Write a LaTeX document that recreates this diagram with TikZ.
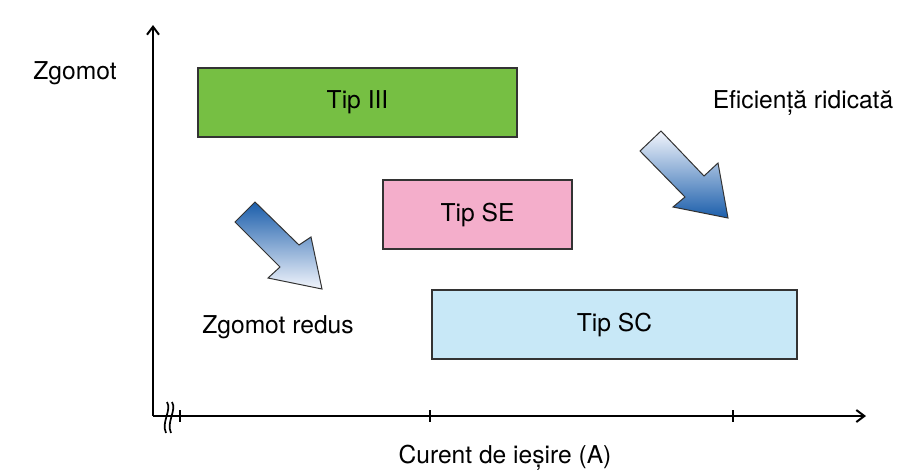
\documentclass[tikz,border=0pt]{standalone}
\usepackage{fontspec}
\setmainfont{TeX Gyre Heros}
\usetikzlibrary{positioning, arrows.meta}
\definecolor{tipgreen}{HTML}{76BF43}
\definecolor{tippink}{HTML}{F4AECB}
\definecolor{tipblue}{HTML}{C8E8F7}
\definecolor{arrdark}{HTML}{1B5EAB}
\definecolor{arrpale}{HTML}{F2F5FC}
\tikzset{
	axis/.style={line width=1pt, black},
	tipbox/.style={draw=black!80, line width=0.75pt, inner sep=0pt, outer sep=0pt,
		minimum height=34.5pt, font=\fontsize{12.3}{14}\selectfont},
	lbl/.style={inner sep=0pt, font=\fontsize{12.3}{14}\selectfont},
	bigarrow/.style={draw=black!80, line width=0.5pt, shading angle=45}
}
\begin{document}
\begin{tikzpicture}[x=0.5pt,y=0.5pt]
		\useasboundingbox (0,0) rectangle (899,-473);
		\coordinate (o) at (153,-416);
		\coordinate (ytop) at (153,-25);
		\coordinate (xend) at (866,-416);
		\draw[axis, -{Straight Barb[length=4pt, width=6pt]}] (o) -- (ytop);
		\draw[axis, -{Straight Barb[length=4pt, width=6pt]}] (o) -- (xend);
		\draw[axis] (180,-410) -- (180,-422);
		\draw[axis] (430,-410) -- (430,-422);
		\draw[axis] (733,-410) -- (733,-422);
		\draw[line width=0.85pt] (167,-402) .. controls (172,-410) and (161,-422) .. (166,-433);
		\draw[line width=0.85pt] (172,-402) .. controls (177,-410) and (166,-422) .. (171,-433);
		\node[lbl] (ylabel) at (75,-73) {Zgomot};
		\node[lbl] (xlabel) at (505,-458) {Curent de ieșire (A)};
		\node[tipbox, fill=tipgreen, minimum width=159.5pt] (tip3) at (357.5,-102.5) {Tip III};
		\node[tipbox, fill=tippink, minimum width=94.5pt] (tipse) at (477.5,-214.5) {Tip SE};
		\node[tipbox, fill=tipblue, minimum width=182.5pt] (tipsc) at (614.5,-324.5) {Tip SC};
		\shade[bigarrow, top color=arrdark, bottom color=arrpale]
			(235,-222) -- (255,-202) -- (299,-245) -- (311,-237) -- (322,-289) -- (268,-278) -- (280,-267) -- cycle;
		\shade[bigarrow, top color=arrpale, bottom color=arrdark]
			(640,-151) -- (661,-131) -- (704,-176) -- (718,-163) -- (728,-218) -- (673,-207) -- (685,-197) -- cycle;
		\node[lbl] (redus) at (278,-327) {Zgomot redus};
		\node[lbl] (eficienta) at (803,-103) {Eficiență ridicată};
\end{tikzpicture}
\end{document}
